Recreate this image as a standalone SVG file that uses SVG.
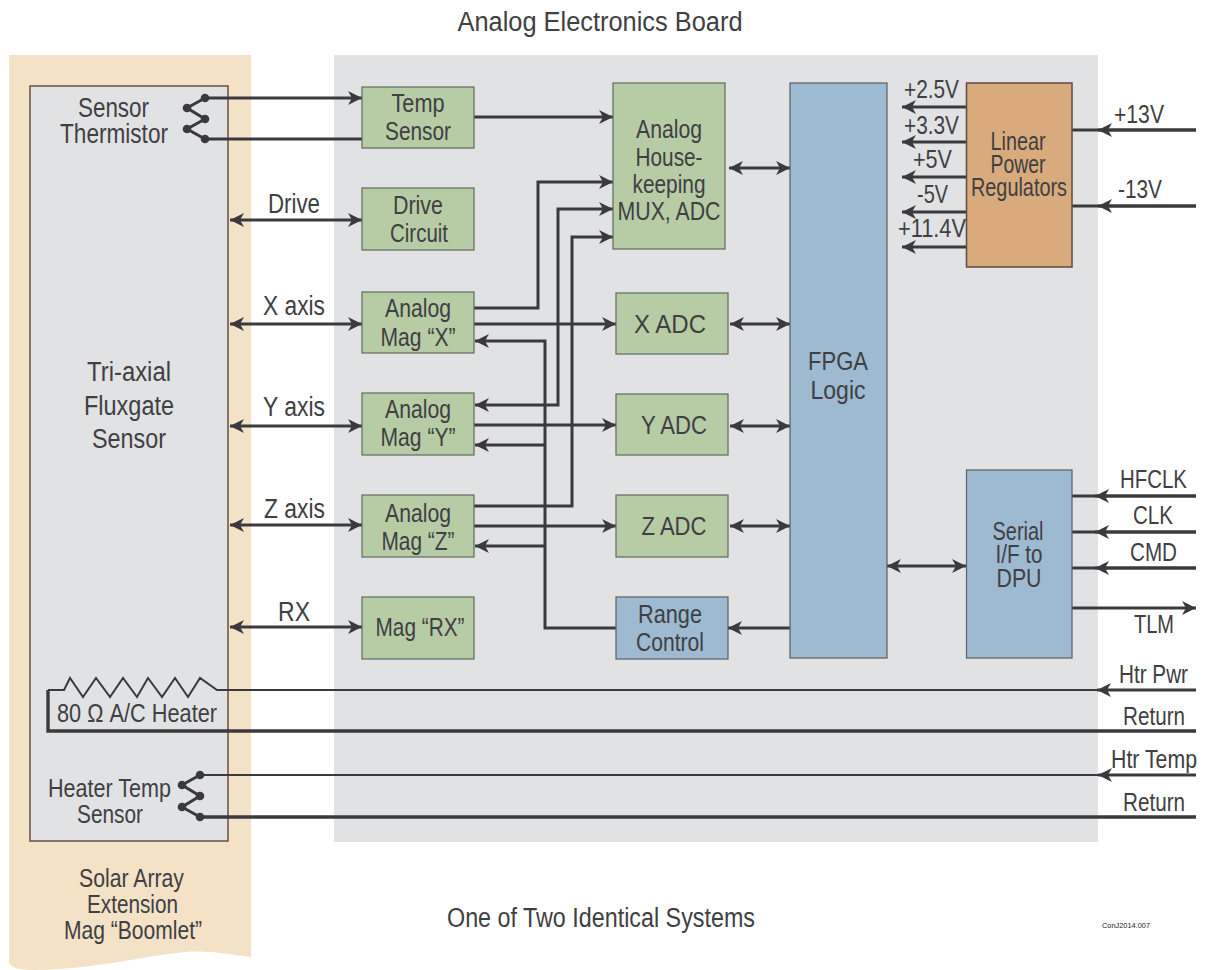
<svg xmlns="http://www.w3.org/2000/svg" width="1209" height="970" viewBox="0 0 1209 970">
<style>
text{font-family:"Liberation Sans",Arial,sans-serif;font-size:25px;fill:#404043;text-anchor:middle;lengthAdjust:spacingAndGlyphs}
.l{font-size:27px}
.g{fill:#b6cca5;stroke:#5f6a5c;stroke-width:1.2}
.b{fill:#9dbad0;stroke:#5b5f62;stroke-width:1.2}
.o{fill:#d8aa7c;stroke:#5e4a40;stroke-width:1.5}
.w{fill:none;stroke:#3a3a3c;stroke-width:3}
.t{fill:none;stroke:#3a3a3c;stroke-width:2}
.k{fill:none;stroke:#3a3a3c;stroke-width:3.4}
.e{marker-end:url(#a)}
.s{marker-start:url(#r)}
.d{fill:#3a3a3c}
</style>
<defs>
<marker id="a" markerUnits="userSpaceOnUse" markerWidth="16" markerHeight="16" refX="14" refY="8" orient="auto"><path d="M0,1 L14,8 L0,15 L4,8 Z" fill="#3a3a3c"/></marker>
<marker id="r" markerUnits="userSpaceOnUse" markerWidth="16" markerHeight="16" refX="2" refY="8" orient="auto"><path d="M16,1 L2,8 L16,15 L12,8 Z" fill="#3a3a3c"/></marker>
</defs>
<rect width="1209" height="970" fill="#fff"/>
<path id="boomlet-panel" d="M9,55 H251 V957 C232,955 210,950 185,952 C150,955 90,970 35,970 C20,970 10,968 9,962 Z" fill="#f3e2c5"/>
<rect id="board-panel" x="334" y="55" width="764" height="787" fill="#e1e2e4"/>
<rect id="sensor-panel" x="30" y="86" width="198" height="755" fill="#e1e2e4" stroke="#6a4f48" stroke-width="1.5"/>
<g id="connectors">
<path class="w e" d="M205,98 H362"/>
<path class="w" d="M205,139 H362"/>
<path class="w" d="M205,98 L187,108 L205,119 L187,129 L205,139"/>
<path class="w e s" d="M230,220 H362"/>
<path class="w e s" d="M230,324 H362"/>
<path class="w e s" d="M230,426 H362"/>
<path class="w e s" d="M230,525 H362"/>
<path class="w e s" d="M230,627 H362"/>
<path class="w e" d="M474,117 H613"/>
<path class="w e" d="M474,308 H538 V182 H613"/>
<path class="w e s" d="M475,405 H558 V209 H613"/>
<path class="w e" d="M474,506 H572 V237 H613"/>
<path class="w e" d="M474,324 H616"/>
<path class="w e" d="M474,425 H616"/>
<path class="w e" d="M474,526 H616"/>
<path class="w e" d="M616,628 H545 V341 H475"/>
<path class="w e" d="M545,445 H475"/>
<path class="w e" d="M545,546 H475"/>
<path class="w e" d="M790,628 H728"/>
<path class="w e s" d="M729,168 H790"/>
<path class="w e s" d="M730,324 H790"/>
<path class="w e s" d="M730,426 H790"/>
<path class="w e s" d="M730,526 H790"/>
<path class="w e s" d="M887,566 H966"/>
<path class="w e" d="M967,107 H902"/>
<path class="w e" d="M967,142 H902"/>
<path class="w e" d="M967,177 H902"/>
<path class="w e" d="M967,212 H902"/>
<path class="w e" d="M967,247 H902"/>
<path class="w" d="M1196,130 H1072"/>
<path class="w e" d="M1196,130 H1098"/>
<path class="w" d="M1196,206 H1072"/>
<path class="w e" d="M1196,206 H1098"/>
<path class="w" d="M1196,496 H1072"/>
<path class="w e" d="M1196,496 H1095"/>
<path class="w" d="M1196,532 H1072"/>
<path class="w e" d="M1196,532 H1095"/>
<path class="w" d="M1196,568 H1072"/>
<path class="w e" d="M1196,568 H1095"/>
<path class="w e" d="M1072,608 H1196"/>
<path class="t" d="M1097,690 H217 L200,678 L188,697 L175,678 L162,697 L148,678 L137,697 L123,678 L110,697 L96,678 L83,697 L70,678 L64,690 H48"/>
<path class="w e" d="M1196,690 H1097"/>
<path class="k" d="M48,690 V731 H1196"/>
<path class="w e" d="M1196,775 H1098"/>
<path class="t" d="M1098,775 H200"/>
<path class="k" d="M1196,817 H200"/>
<path class="w" d="M200,775 L182,785 L200,796 L182,807 L200,817"/>
<circle class="d" cx="205" cy="98" r="4.300"/><circle class="d" cx="187" cy="108" r="4.300"/><circle class="d" cx="205" cy="119" r="4.300"/><circle class="d" cx="187" cy="129" r="4.300"/><circle class="d" cx="205" cy="139" r="4.300"/>
<circle class="d" cx="200" cy="775" r="4.300"/><circle class="d" cx="182" cy="785" r="4.300"/><circle class="d" cx="200" cy="796" r="4.300"/><circle class="d" cx="182" cy="807" r="4.300"/><circle class="d" cx="200" cy="817" r="4.300"/>
</g>
<g id="temp-sensor"><rect class="g" x="362" y="87" width="112" height="61"/><text x="418" y="112" textLength="53" lengthAdjust="spacingAndGlyphs">Temp</text><text x="418" y="140" textLength="66" lengthAdjust="spacingAndGlyphs">Sensor</text></g>
<g id="drive-circuit"><rect class="g" x="362" y="188" width="112" height="62"/><text x="418" y="214" textLength="50" lengthAdjust="spacingAndGlyphs">Drive</text><text x="419" y="242" textLength="58" lengthAdjust="spacingAndGlyphs">Circuit</text></g>
<g id="mag-x"><rect class="g" x="362" y="292" width="112" height="61"/><text x="418" y="317" textLength="66" lengthAdjust="spacingAndGlyphs">Analog</text><text x="418" y="346" textLength="75" lengthAdjust="spacingAndGlyphs">Mag “X”</text></g>
<g id="mag-y"><rect class="g" x="362" y="393" width="112" height="62"/><text x="418" y="418" textLength="66" lengthAdjust="spacingAndGlyphs">Analog</text><text x="418" y="446" textLength="75" lengthAdjust="spacingAndGlyphs">Mag “Y”</text></g>
<g id="mag-z"><rect class="g" x="362" y="495" width="112" height="62"/><text x="418" y="522" textLength="66" lengthAdjust="spacingAndGlyphs">Analog</text><text x="418" y="550" textLength="73" lengthAdjust="spacingAndGlyphs">Mag “Z”</text></g>
<g id="mag-rx"><rect class="g" x="362" y="597" width="112" height="62"/><text x="420" y="636" textLength="89" lengthAdjust="spacingAndGlyphs">Mag “RX”</text></g>
<g id="housekeeping"><rect class="g" x="613" y="83" width="112" height="166"/><text x="669" y="138" textLength="66" lengthAdjust="spacingAndGlyphs">Analog</text><text x="669" y="166" textLength="67" lengthAdjust="spacingAndGlyphs">House-</text><text x="669" y="193" textLength="73" lengthAdjust="spacingAndGlyphs">keeping</text><text x="669" y="220" textLength="103" lengthAdjust="spacingAndGlyphs">MUX, ADC</text></g>
<g id="x-adc"><rect class="g" x="616" y="293" width="112" height="61"/><text x="670" y="333" textLength="72" lengthAdjust="spacingAndGlyphs">X ADC</text></g>
<g id="y-adc"><rect class="g" x="616" y="394" width="112" height="61"/><text x="674" y="434" textLength="66" lengthAdjust="spacingAndGlyphs">Y ADC</text></g>
<g id="z-adc"><rect class="g" x="616" y="495" width="112" height="62"/><text x="674" y="535" textLength="65" lengthAdjust="spacingAndGlyphs">Z ADC</text></g>
<g id="range-control"><rect class="b" x="616" y="597" width="112" height="62"/><text x="670" y="623" textLength="64" lengthAdjust="spacingAndGlyphs">Range</text><text x="670" y="651" textLength="68" lengthAdjust="spacingAndGlyphs">Control</text></g>
<g id="fpga"><rect class="b" x="790" y="83" width="97" height="575"/><text x="838" y="370" textLength="60" lengthAdjust="spacingAndGlyphs">FPGA</text><text x="838" y="399" textLength="55" lengthAdjust="spacingAndGlyphs">Logic</text></g>
<g id="regulators"><rect class="o" x="966.500" y="83" width="105.500" height="184"/><text x="1018" y="150" textLength="55" lengthAdjust="spacingAndGlyphs">Linear</text><text x="1018" y="173" textLength="55" lengthAdjust="spacingAndGlyphs">Power</text><text x="1019" y="196" textLength="96" lengthAdjust="spacingAndGlyphs">Regulators</text></g>
<g id="serial"><rect class="b" x="966.500" y="470" width="105.500" height="188"/><text x="1018" y="540" textLength="51" lengthAdjust="spacingAndGlyphs">Serial</text><text x="1019" y="563" textLength="47" lengthAdjust="spacingAndGlyphs">I/F to</text><text x="1019" y="587" textLength="45" lengthAdjust="spacingAndGlyphs">DPU</text></g>
<g id="labels">
<text class="l" x="600" y="31" textLength="285" lengthAdjust="spacingAndGlyphs">Analog Electronics Board</text>
<text class="l" x="601" y="927" textLength="308" lengthAdjust="spacingAndGlyphs">One of Two Identical Systems</text>
<text class="l" x="113.500" y="117" textLength="71" lengthAdjust="spacingAndGlyphs">Sensor</text><text class="l" x="114" y="143" textLength="108" lengthAdjust="spacingAndGlyphs">Thermistor</text>
<text class="l" x="294" y="213" textLength="52" lengthAdjust="spacingAndGlyphs">Drive</text><text class="l" x="294" y="315" textLength="62" lengthAdjust="spacingAndGlyphs">X axis</text><text class="l" x="294" y="416" textLength="62" lengthAdjust="spacingAndGlyphs">Y axis</text><text class="l" x="294.500" y="518" textLength="61" lengthAdjust="spacingAndGlyphs">Z axis</text><text class="l" x="294" y="621" textLength="32" lengthAdjust="spacingAndGlyphs">RX</text>
<text class="l" x="129" y="381" textLength="84" lengthAdjust="spacingAndGlyphs">Tri-axial</text><text class="l" x="129" y="415" textLength="90" lengthAdjust="spacingAndGlyphs">Fluxgate</text><text class="l" x="129" y="448" textLength="74" lengthAdjust="spacingAndGlyphs">Sensor</text>
<text x="137" y="722" textLength="160" lengthAdjust="spacingAndGlyphs">80 Ω A/C Heater</text>
<text x="109.500" y="797" textLength="123" lengthAdjust="spacingAndGlyphs">Heater Temp</text><text x="110" y="823" textLength="66" lengthAdjust="spacingAndGlyphs">Sensor</text>
<text x="131.500" y="887" textLength="105" lengthAdjust="spacingAndGlyphs">Solar Array</text><text x="132.500" y="913" textLength="91" lengthAdjust="spacingAndGlyphs">Extension</text><text x="133" y="939" textLength="138" lengthAdjust="spacingAndGlyphs">Mag “Boomlet”</text>
<text x="931.500" y="98" textLength="55" lengthAdjust="spacingAndGlyphs">+2.5V</text><text x="931.500" y="134" textLength="55" lengthAdjust="spacingAndGlyphs">+3.3V</text><text x="932.500" y="168" textLength="39" lengthAdjust="spacingAndGlyphs">+5V</text><text x="932.500" y="203" textLength="31" lengthAdjust="spacingAndGlyphs">-5V</text><text x="932" y="237" textLength="68" lengthAdjust="spacingAndGlyphs">+11.4V</text>
<text x="1139" y="123" textLength="50" lengthAdjust="spacingAndGlyphs">+13V</text><text x="1140" y="198" textLength="44" lengthAdjust="spacingAndGlyphs">-13V</text>
<text x="1153.500" y="488" textLength="67" lengthAdjust="spacingAndGlyphs">HFCLK</text><text x="1153" y="524" textLength="40" lengthAdjust="spacingAndGlyphs">CLK</text><text x="1153.500" y="561" textLength="47" lengthAdjust="spacingAndGlyphs">CMD</text><text x="1154" y="633" textLength="40" lengthAdjust="spacingAndGlyphs">TLM</text>
<text x="1153.500" y="683" textLength="69" lengthAdjust="spacingAndGlyphs">Htr Pwr</text><text x="1154" y="725" textLength="62" lengthAdjust="spacingAndGlyphs">Return</text><text x="1154" y="768" textLength="86" lengthAdjust="spacingAndGlyphs">Htr Temp</text><text x="1154" y="811" textLength="62" lengthAdjust="spacingAndGlyphs">Return</text>
<text x="1126" y="928" textLength="48" lengthAdjust="spacingAndGlyphs" style="font-size:8px;fill:#222">ConJ2014.007</text>
</g>
</svg>
